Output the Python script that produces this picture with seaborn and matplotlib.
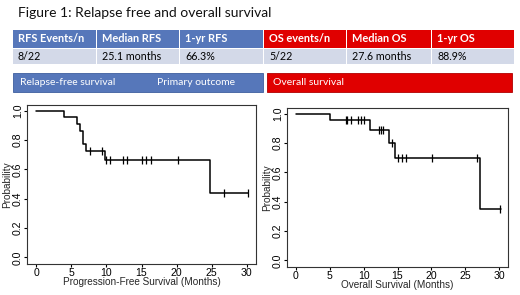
import numpy as np
import pandas as pd
import matplotlib
matplotlib.use("Agg")
import matplotlib.pyplot as plt
from matplotlib.patches import Rectangle
import seaborn as sns

# summary table
header_labels = ["RFS Events/n", "Median RFS", "1-yr RFS", "OS events/n", "Median OS", "1-yr OS"]
row_values = ["8/22", "25.1 months", "66.3%", "5/22", "27.6 months", "88.9%"]
banner_labels = ["Relapse-free survival", "Primary outcome", "Overall survival"]

# Kaplan-Meier steps
rfs_times = [0, 4.0, 5.8, 6.3, 6.7, 7.1, 9.8, 24.8, 30.2]
rfs_surv = [1.0, 0.955, 0.909, 0.864, 0.773, 0.727, 0.663, 0.442, 0.442]
rfs_censored = [7.6, 9.4, 10.0, 10.5, 12.3, 13.0, 15.1, 15.7, 16.3, 20.2, 26.8, 30.2]

os_times = [0, 5.1, 11.0, 13.8, 14.6, 27.2, 30.2]
os_surv = [1.0, 0.955, 0.887, 0.798, 0.698, 0.349, 0.349]
os_censored = [7.4, 7.6, 8.1, 9.2, 9.6, 10.1, 12.2, 12.5, 12.9, 14.2, 15.1, 15.7, 16.3, 20.1, 26.8, 30.1]

blue = "#5677BA"
light = "#D3D9E8"
red = "#E00000"

sns.set_theme(style="white")
plt.rcParams["font.family"] = ["Liberation Sans", "DejaVu Sans"]

W, H = 520, 295
fig = plt.figure(figsize=(W / 100, H / 100), dpi=100)

# overlay in pixel coordinates for title / table / banners
bg = fig.add_axes([0, 0, 1, 1])
bg.set_xlim(0, W)
bg.set_ylim(H, 0)
bg.axis("off")

bg.text(18, 13, "Figure 1: Relapse free and overall survival", family="Lato",
        fontsize=10, va="center", ha="left", color="#111111")

edges = [13, 97, 180, 264, 347, 432, 515]
for i in range(6):
    x0, x1 = edges[i], edges[i + 1]
    hc = blue if i < 3 else red
    bg.add_patch(Rectangle((x0, 30), x1 - x0 - 1, 17.5, color=hc, lw=0))
    bg.add_patch(Rectangle((x0, 48.5), x1 - x0 - 1, 15.5, color=light, lw=0))
    bg.text(x0 + 5, 39, header_labels[i], family="Lato", fontweight="bold",
            fontsize=7.9, color="white", va="center")
    bg.text(x0 + 5, 56.5, row_values[i], family="Lato", fontsize=7.7,
            color="black", va="center")

bg.add_patch(Rectangle((13, 73), 250, 19, facecolor=blue, edgecolor="#3E5E9E", lw=0.6))
bg.add_patch(Rectangle((267, 73), 245, 19, facecolor=red, edgecolor="#B00000", lw=0.6))
bg.text(20, 82.5, banner_labels[0], family="Lato", fontsize=7.5, color="white", va="center")
bg.text(157, 82.5, banner_labels[1], family="Lato", fontsize=7.5, color="white", va="center")
bg.text(273, 82.5, banner_labels[2], family="Lato", fontsize=7.5, color="white", va="center")


def step_level(times, surv, t):
    idx = np.searchsorted(times, t, side="right") - 1
    return surv[idx]


def km_panel(rect, times, surv, censored, xlabel):
    x0, y0, x1, y1 = rect
    ax = fig.add_axes([x0 / W, 1 - y1 / H, (x1 - x0) / W, (y1 - y0) / H])
    df = pd.DataFrame({"t": times, "s": surv})
    sns.lineplot(data=df, x="t", y="s", drawstyle="steps-post", color="black",
                 lw=1.1, estimator=None, ax=ax)
    cdf = pd.DataFrame({"t": censored,
                        "s": [step_level(times, surv, c) for c in censored]})
    sns.scatterplot(data=cdf, x="t", y="s", marker="|", s=40, color="black",
                    linewidth=0.9, ax=ax, zorder=3)
    ax.set_xlim(-1.3, 31.3)
    ax.set_ylim(-0.045, 1.04)
    ax.set_xticks([0, 5, 10, 15, 20, 25, 30])
    ax.set_yticks([0, 0.2, 0.4, 0.6, 0.8, 1.0])
    ax.set_yticklabels(["0.0", "0.2", "0.4", "0.6", "0.8", "1.0"], rotation=90, va="center")
    ax.tick_params(axis="both", direction="out", length=2.5, width=0.8,
                   labelsize=7.6, pad=0.5, colors="black", left=True, bottom=True)
    for sp in ax.spines.values():
        sp.set_color("#333333")
        sp.set_linewidth(0.8)
    ax.set_xlabel(xlabel, fontsize=7.2, labelpad=-0.5)
    ax.set_ylabel("Probability", fontsize=7.2, labelpad=0.5)
    return ax


km_panel((27, 105, 256, 264), rfs_times, rfs_surv, rfs_censored,
         "Progression-Free Survival (Months)")
km_panel((287, 108, 508, 267), os_times, os_surv, os_censored,
         "Overall Survival (Months)")

fig.savefig("out.png", dpi=100)
